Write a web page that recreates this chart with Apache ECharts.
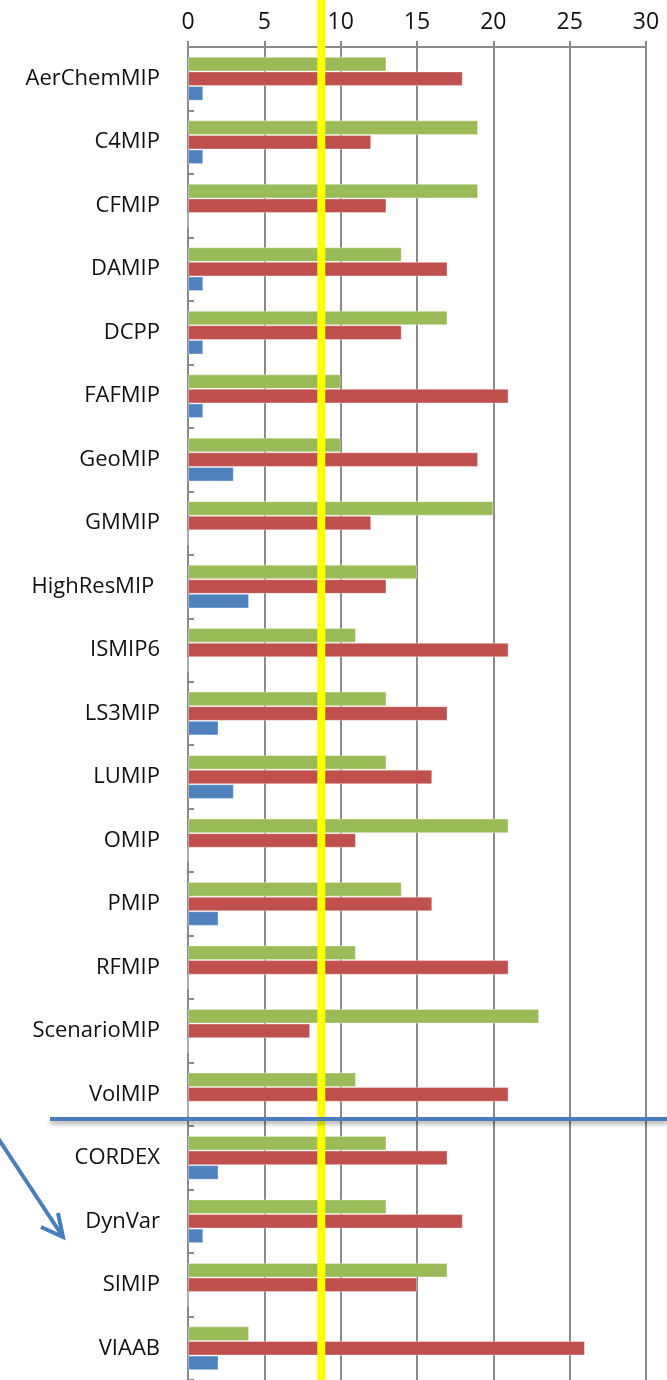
<!DOCTYPE html>
<html>
<head>
<meta charset="utf-8">
<script src="https://cdn.jsdelivr.net/npm/echarts@6/dist/echarts.min.js"></script>
<style>
  html, body { margin: 0; padding: 0; background: #fff; }
  #chart { width: 667px; height: 1380px; }
</style>
</head>
<body>
<div id="chart"></div>
<script>
var categories = ['AerChemMIP', 'C4MIP', 'CFMIP', 'DAMIP', 'DCPP', 'FAFMIP', 'GeoMIP', 'GMMIP',
  'HighResMIP ', 'ISMIP6', 'LS3MIP', 'LUMIP', 'OMIP', 'PMIP', 'RFMIP', 'ScenarioMIP', 'VolMIP',
  'CORDEX', 'DynVar', 'SIMIP', 'VIAAB'];
var greenValues = [13, 19, 19, 14, 17, 10, 10, 20, 15, 11, 13, 13, 21, 14, 11, 23, 11, 13, 13, 17, 4];
var redValues   = [18, 12, 13, 17, 14, 21, 19, 12, 13, 21, 17, 16, 11, 16, 21, 8, 21, 17, 18, 15, 26];
var blueValues  = [1, 1, 0, 1, 1, 1, 3, 0, 4, 0, 2, 3, 0, 2, 0, 0, 0, 2, 1, 0, 2];
var xTicks = [0, 5, 10, 15, 20, 25, 30];
var yellowValue = 8.73;   // vertical marker
var splitAfter = 'VolMIP'; // separator line between groups

var chart = echarts.init(document.getElementById('chart'));

var barStyle = function (color) {
  return { color: color, borderColor: 'rgba(255,255,255,0.35)', borderWidth: 1 };
};

var option = {
  animation: false,
  textStyle: { fontFamily: 'Open Sans' },
  grid: { left: 188, right: 21, top: 47, bottom: 0, containLabel: false },
  xAxis: {
    type: 'value',
    position: 'top',
    min: xTicks[0],
    max: xTicks[xTicks.length - 1],
    interval: 5,
    axisLine: { show: true, lineStyle: { color: '#8a8a8a', width: 2 } },
    axisTick: { show: true, length: 6, lineStyle: { color: '#8a8a8a', width: 2 } },
    axisLabel: { fontSize: 23, color: '#111', margin: 13 },
    splitLine: { show: true, lineStyle: { color: '#8a8a8a', width: 2 } }
  },
  yAxis: {
    type: 'category',
    data: categories,
    inverse: true,
    axisLine: { show: true, lineStyle: { color: '#8a8a8a', width: 2 } },
    axisTick: { show: true, inside: true, length: 6, lineStyle: { color: '#8a8a8a', width: 2 } },
    axisLabel: { fontSize: 22, color: '#111', margin: 28 }
  },
  series: [
    { name: 'green', type: 'bar', data: greenValues, itemStyle: barStyle('#9bbb59'),
      barGap: '0%', barCategoryGap: '31%' },
    { name: 'red', type: 'bar', data: redValues, itemStyle: barStyle('#c0504d'),
      barGap: '0%', barCategoryGap: '31%' },
    { name: 'blue', type: 'bar', data: blueValues, itemStyle: barStyle('#4f81bd'),
      barGap: '0%', barCategoryGap: '31%' }
  ]
};

chart.setOption(option);

// annotations placed from the axes
var xYellow = chart.convertToPixel({ xAxisIndex: 0 }, yellowValue);
var yVol = chart.convertToPixel({ yAxisIndex: 0 }, splitAfter);
var band = chart.convertToPixel({ yAxisIndex: 0 }, categories[1]) - chart.convertToPixel({ yAxisIndex: 0 }, categories[0]);
var ySep = yVol + band / 2 - 7;

chart.setOption({
  graphic: [
    {
      type: 'line', z: 100,
      shape: { x1: xYellow, y1: 0, x2: xYellow, y2: 1380 },
      style: { stroke: '#ffff00', lineWidth: 8 }
    },
    {
      type: 'line', z: 100,
      shape: { x1: 50, y1: ySep, x2: 667, y2: ySep },
      style: { stroke: '#4a7ebb', lineWidth: 4, shadowBlur: 4, shadowOffsetY: 3, shadowColor: 'rgba(0,0,0,0.35)' }
    },
    {
      type: 'polyline', z: 100,
      shape: { points: [[-2, 1138], [63, 1237]] },
      style: { stroke: '#4a7ebb', lineWidth: 4, fill: null }
    },
    {
      type: 'polyline', z: 100,
      shape: { points: [[58, 1213], [63, 1237], [41, 1227]] },
      style: { stroke: '#4a7ebb', lineWidth: 4, fill: null, lineJoin: 'miter' }
    }
  ]
});
</script>
</body>
</html>
